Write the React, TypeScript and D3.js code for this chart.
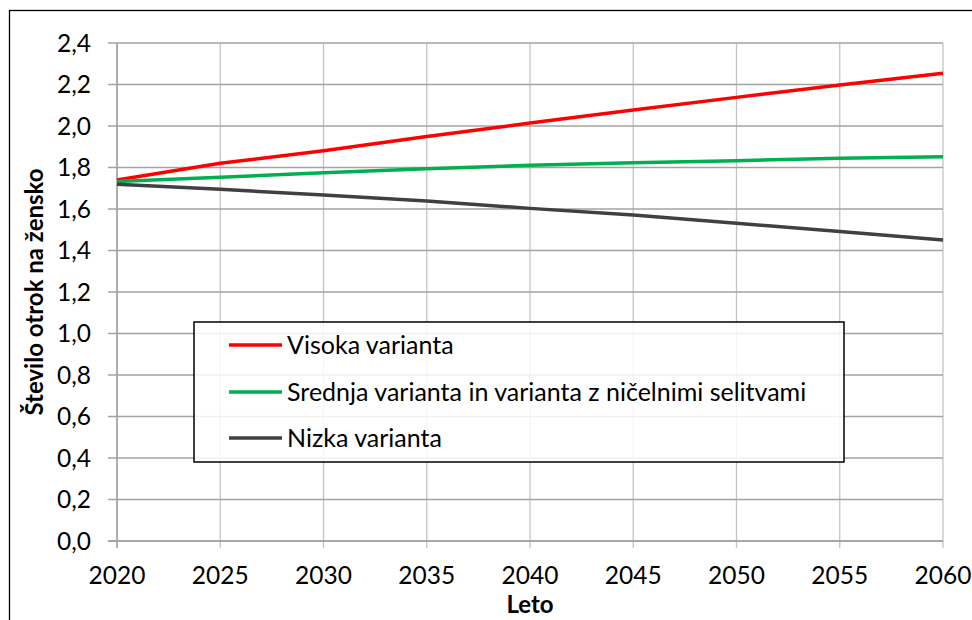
import React from "react";
import * as d3 from "d3";

const years = [2020, 2025, 2030, 2035, 2040, 2045, 2050, 2055, 2060];
const visoka = [1.74, 1.82, 1.881, 1.949, 2.014, 2.077, 2.138, 2.198, 2.254];
const srednja = [1.732, 1.753, 1.775, 1.794, 1.811, 1.823, 1.833, 1.844, 1.852];
const nizka = [1.719, 1.695, 1.667, 1.639, 1.603, 1.571, 1.531, 1.491, 1.451];
const yTicks = [0, 0.2, 0.4, 0.6, 0.8, 1.0, 1.2, 1.4, 1.6, 1.8, 2.0, 2.2, 2.4];
const xTicks = [2020, 2025, 2030, 2035, 2040, 2045, 2050, 2055, 2060];
const seriesNames = [
  "Visoka varianta",
  "Srednja varianta in varianta z ničelnimi selitvami",
  "Nizka varianta",
];
const seriesColors = ["#ff0000", "#00b050", "#404040"];
const yTitle = "Število otrok na žensko";
const xTitle = "Leto";

export default function App() {
  const x = d3.scaleLinear().domain([2020, 2060]).range([117, 943]);
  const y = d3.scaleLinear().domain([0, 2.4]).range([541, 43]);
  const series = [visoka, srednja, nizka];
  const line = d3
    .line<number>()
    .x((_, i) => x(years[i]))
    .y((d) => y(d));
  const font = "Lato, 'Open Sans', sans-serif";
  const fmt = (v: number) => v.toFixed(1).replace(".", ",");

  const legendX = 194, legendY = 322, legendW = 650, legendH = 140;
  const legendRows = [345, 392, 438];

  return (
    <svg
      width={972}
      height={620}
      style={{ position: "absolute", left: 0, top: 0, background: "#fff" }}
      fontFamily={font}
    >
      <rect x={0} y={0} width={972} height={620} fill="#fff" />
      <rect x={9.5} y={10.5} width={1000} height={700} fill="none" stroke="#000" strokeWidth={1.3} />
      {xTicks.map((t) => (
        <line key={"vx" + t} x1={x(t)} x2={x(t)} y1={y(2.4)} y2={y(0) + 7} stroke="#c4c4c4" strokeWidth={1.3} />
      ))}
      {yTicks.map((t) => (
        <line key={"hy" + t} x1={108} x2={x(2060)} y1={y(t)} y2={y(t)} stroke="#a3a3a3" strokeWidth={1.3} />
      ))}
      <line x1={x(2020)} x2={x(2020)} y1={y(2.4)} y2={y(0) + 7} stroke="#a0a0a0" strokeWidth={1.5} />
      <line x1={108} x2={x(2060)} y1={y(0)} y2={y(0)} stroke="#a0a0a0" strokeWidth={1.5} />
      {yTicks.map((t) => (
        <text key={"yl" + t} x={91} y={y(t) + 8.5} textAnchor="end" fontSize={24.5} fill="#000">
          {fmt(t)}
        </text>
      ))}
      {xTicks.map((t) => (
        <text key={"xl" + t} x={x(t)} y={584} textAnchor="middle" fontSize={24.5} fill="#000">
          {t}
        </text>
      ))}
      {series.map((s, i) => (
        <path key={"s" + i} d={line(s) || ""} fill="none" stroke={seriesColors[i]} strokeWidth={3.5} strokeLinejoin="round" />
      ))}
      <rect x={legendX} y={legendY} width={legendW} height={legendH} fill="#fff" fillOpacity={0.85} stroke="#000" strokeWidth={1.5} />
      {seriesNames.map((n, i) => (
        <g key={"lg" + i}>
          <line x1={229} x2={282} y1={legendRows[i]} y2={legendRows[i]} stroke={seriesColors[i]} strokeWidth={3.5} />
          <text x={287} y={legendRows[i] + 8.5} fontSize={25} fill="#000">
            {n}
          </text>
        </g>
      ))}
      <text x={530} y={613} textAnchor="middle" fontSize={24} fontWeight="bold" fill="#000">
        {xTitle}
      </text>
      <text
        transform={`translate(43, ${(y(0) + y(2.4)) / 2}) rotate(-90)`}
        textAnchor="middle"
        fontSize={24}
        fontWeight="bold"
        fill="#000"
      >
        {yTitle}
      </text>
    </svg>
  );
}
